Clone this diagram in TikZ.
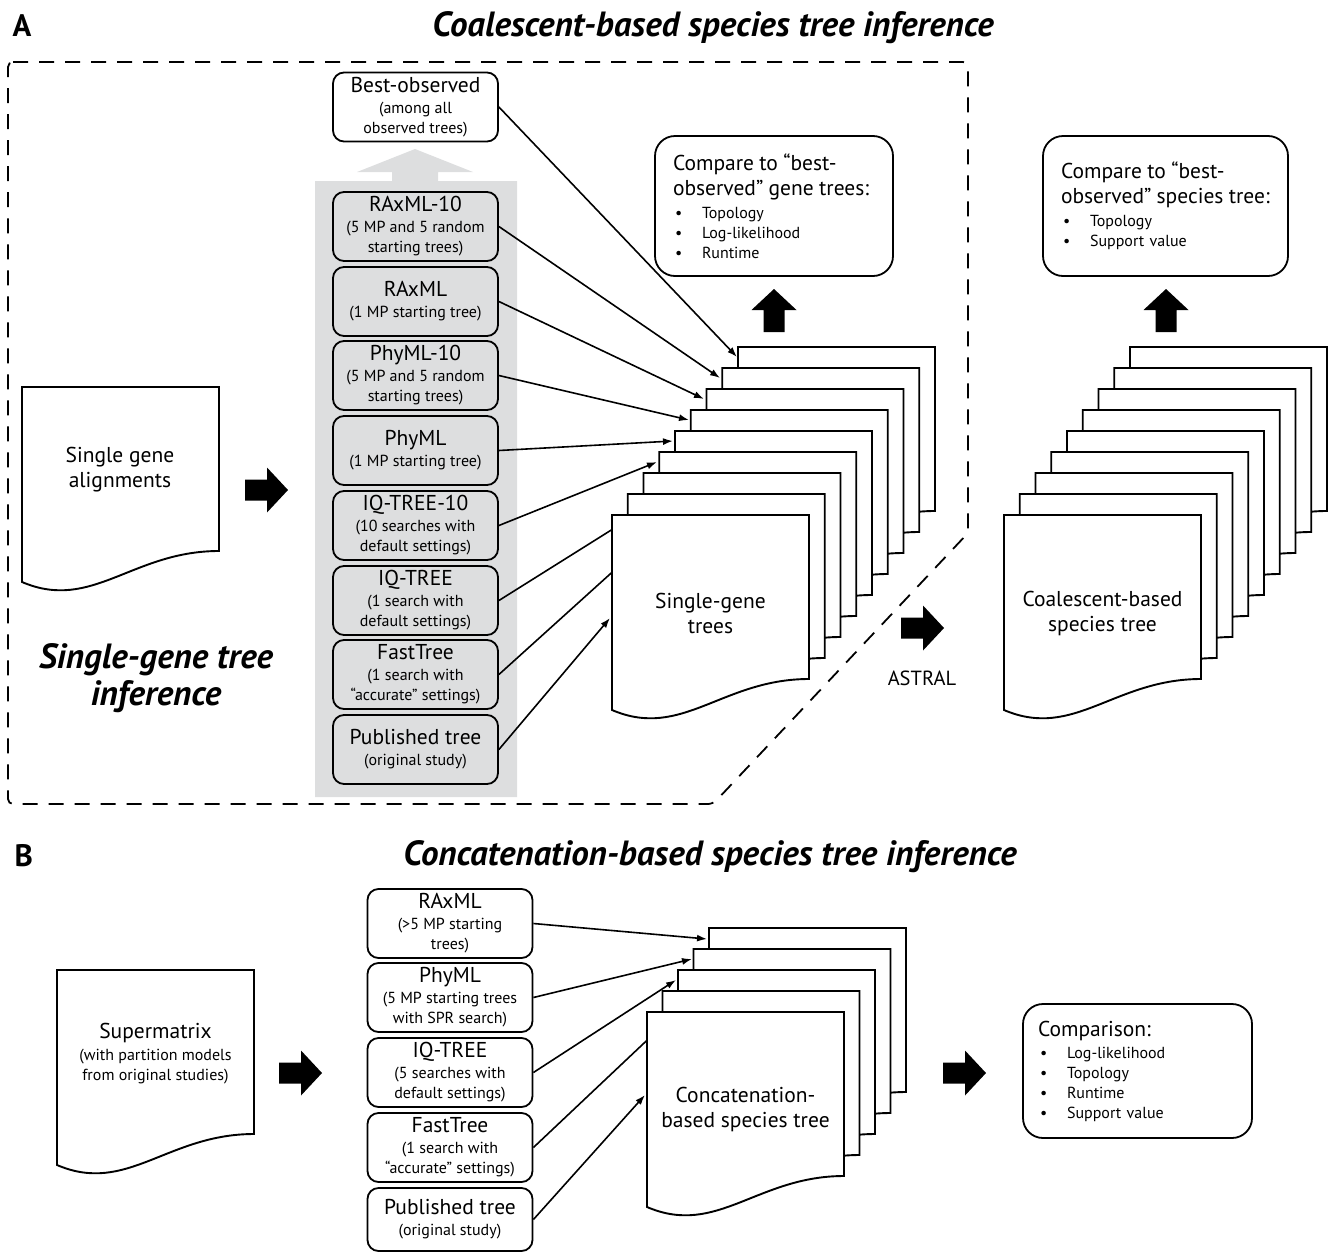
\documentclass[tikz,border=0pt]{standalone}
\usepackage{fontspec}
\setmainfont{PT Sans}
\usetikzlibrary{arrows.meta}
\definecolor{colgray}{RGB}{221,222,223}
\def\treedoc(#1,#2){\draw[docline,shift={(#1,#2)}] (0,0) -- (197,0) -- (197,164) .. controls (110,164) and (70,225) .. (0,195) -- cycle;}
\def\fatarrow(#1,#2)[#3]{\fill[black,shift={(#1,#2)},rotate=#3] (0,-10.5) -- (22,-10.5) -- (22,-22.5) -- (43,0) -- (22,22.5) -- (22,10.5) -- (0,10.5) -- cycle;}
\newcommand\mainline[1]{{\fontsize{21.5}{20}\selectfont #1}}
\newcommand\bigline[1]{\mbox{\fontsize{21.5}{25}\selectfont #1}}
\newcommand\bul[1]{\hspace*{2pt}\makebox[27pt][l]{\textbullet}#1}
\tikzset{
	method/.style={draw, line width=1.8pt, rounded corners=11pt, fill=colgray, minimum width=165pt, minimum height=69pt, inner sep=0pt, align=center, font={\fontsize{16}{20}\selectfont}},
	methodB/.style={method, fill=white},
	compbox/.style={draw, line width=1.8pt, rounded corners=20pt, fill=white, inner ysep=0pt, align=left, font={\fontsize{16}{20}\selectfont}},
	doclabel/.style={align=center, font={\fontsize{21.5}{25}\selectfont}},
	heading/.style={align=center, font={\fontsize{35}{37}\selectfont\bfseries\itshape}},
	panel/.style={font={\fontsize{31}{31}\selectfont\bfseries}},
	feed/.style={line width=1.6pt, -{Latex[length=10pt,width=7pt]}},
	docline/.style={line width=1.9pt, fill=white},
	gframe/.style={line width=1.8pt, dash pattern=on 15pt off 11pt, rounded corners=5pt}
}

\begin{document}
\begin{tikzpicture}[x=1pt,y=-1pt]
		%%%%% START %%%%%
		\useasboundingbox (0,0) rectangle (1333,1253);
		
		% panel A frame and gray column
		\draw[gframe] (8,62) -- (968,62) -- (968,533) -- (713,804) -- (8,804) -- cycle;
		\fill[colgray] (315,797) -- (315,181) -- (392,181) -- (392,172) -- (357,172) -- (415,149) -- (473,172) -- (438,172) -- (438,181) -- (517,181) -- (517,797) -- cycle;
		
		\node[panel, anchor=base west] (labA) at (9,36) {A};
		\node[heading, anchor=base] (titleA) at (713,36) {Coalescent-based species tree inference};
		\node[heading] (titlegene) at (156,678) {Single-gene tree\\inference};
		
		% gene tree methods
		\node[method, fill=white] (bestobs) at (415.5,107) {\mainline{Best-observed}\\[1pt](among all\\observed trees)};
		\node[method] (raxmlten) at (415.5,226.5) {\mainline{RAxML-10}\\[1pt](5 MP and 5 random\\starting trees)};
		\node[method] (raxmlA) at (415.5,301.5) {\mainline{RAxML}\\[1pt](1 MP starting tree)};
		\node[method] (phymlten) at (415.5,375.5) {\mainline{PhyML-10}\\[1pt](5 MP and 5 random\\starting trees)};
		\node[method] (phymlA) at (415.5,450.5) {\mainline{PhyML}\\[1pt](1 MP starting tree)};
		\node[method] (iqtreeten) at (415.5,525.5) {\mainline{IQ-TREE-10}\\[1pt](10 searches with\\default settings)};
		\node[method] (iqtreeA) at (415.5,600.5) {\mainline{IQ-TREE}\\[1pt](1 search with\\default settings)};
		\node[method] (fasttreeA) at (415.5,674.5) {\mainline{FastTree}\\[1pt](1 search with\\“accurate” settings)};
		\node[method] (publishedA) at (415.5,749.5) {\mainline{Published tree}\\[1pt](original study)};
		
		\node[compbox, minimum width=238pt, minimum height=140pt, text width=202pt, inner xsep=18pt] (cmpgene) at (774,206) {\bigline{Compare to “best-}\\[5pt]\bigline{observed” gene trees:}\\[3pt]\bul{Topology}\\\bul{Log-likelihood}\\\bul{Runtime}};
		\node[compbox, minimum width=245pt, minimum height=140pt, text width=209pt, inner xsep=18pt] (cmpspecies) at (1165.5,206) {\bigline{Compare to “best-}\\[5pt]\bigline{observed” species tree:}\\[3pt]\bul{Topology}\\\bul{Support value}};
		
		% arrow ends on the gene tree stack
		\coordinate (gA8) at (737,357);
		\coordinate (gA7) at (720,378);
		\coordinate (gA6) at (704,399);
		\coordinate (gA5) at (689,420);
		\coordinate (gA4) at (673,441);
		\coordinate (gA3) at (657,462);
		\coordinate (gA2) at (640,512);
		\coordinate (gA1) at (640,547);
		\coordinate (gA0) at (610,618);
		
		\draw[feed] (bestobs.east) -- (gA8);
		\draw[feed] (raxmlten.east) -- (gA7);
		\draw[feed] (raxmlA.east) -- (gA6);
		\draw[feed] (phymlten.east) -- (gA5);
		\draw[feed] (phymlA.east) -- (gA4);
		\draw[feed] (iqtreeten.east) -- (gA3);
		\draw[feed] (iqtreeA.east) -- (gA2);
		\draw[feed] (fasttreeA.east) -- (gA1);
		\draw[feed] (publishedA.east) -- (gA0);
		
		% document stacks
		\treedoc(22,387)
		\node[doclabel] (alignments) at (120,470) {Single gene\\alignments};
		\fatarrow(245,490)[0]
		
		\treedoc(738,347)
		\treedoc(722.25,368)
		\treedoc(706.5,389)
		\treedoc(690.75,410)
		\treedoc(675,431)
		\treedoc(659.25,452)
		\treedoc(643.5,473)
		\treedoc(627.75,494)
		\treedoc(612,515)
		\node[doclabel] (genetrees) at (710.5,613) {Single-gene\\trees};
		\fatarrow(774,332)[90]
		
		\fatarrow(901,628)[0]
		\node[font={\fontsize{20.5}{20}\selectfont}] (astral) at (922,678) {ASTRAL};
		
		\treedoc(1130,347)
		\treedoc(1114.25,368)
		\treedoc(1098.5,389)
		\treedoc(1082.75,410)
		\treedoc(1067,431)
		\treedoc(1051.25,452)
		\treedoc(1035.5,473)
		\treedoc(1019.75,494)
		\treedoc(1004,515)
		\node[doclabel] (sptree) at (1102.5,613) {Coalescent-based\\species tree};
		\fatarrow(1166,332)[90]
		
		% panel B
		\node[panel, anchor=base west] (labB) at (11,866) {B};
		\node[heading, anchor=base] (titleB) at (710,865) {Concatenation-based species tree inference};
		
		\treedoc(57,970)
		\node[align=center, font={\fontsize{16}{20}\selectfont}] (supermatrix) at (155.5,1054) {\mainline{Supermatrix}\\[2pt](with partition models\\from original studies)};
		\fatarrow(279,1073)[0]
		
		\node[methodB] (raxmlB) at (450,923.5) {\mainline{RAxML}\\[1pt](>5 MP starting\\trees)};
		\node[methodB] (phymlB) at (450,997.5) {\mainline{PhyML}\\[1pt](5 MP starting trees\\with SPR search)};
		\node[methodB] (iqtreeB) at (450,1072.5) {\mainline{IQ-TREE}\\[1pt](5 searches with\\default settings)};
		\node[methodB] (fasttreeB) at (450,1147.5) {\mainline{FastTree}\\[1pt](1 search with\\“accurate” settings)};
		\node[methodB, minimum height=63pt] (publishedB) at (450,1219.5) {\mainline{Published tree}\\[1pt](original study)};
		
		\coordinate (cB4) at (707,939);
		\coordinate (cB3) at (692,959);
		\coordinate (cB2) at (676,980);
		\coordinate (cB1) at (660,1028);
		\coordinate (cB0) at (645,1095);
		
		\draw[feed] (raxmlB.east) -- (cB4);
		\draw[feed] (phymlB.east) -- (cB3);
		\draw[feed] (iqtreeB.east) -- (cB2);
		\draw[feed] (fasttreeB.east) -- (cB1);
		\draw[feed] (publishedB.east) -- (cB0);
		
		\treedoc(709,928)
		\treedoc(693.5,949)
		\treedoc(678,970)
		\treedoc(662.5,991)
		\treedoc(647,1012)
		\node[doclabel] (concattree) at (745.5,1109) {Concatenation-\\based species tree};
		
		\fatarrow(943,1073)[0]
		\node[compbox, minimum width=229pt, minimum height=134pt, text width=199pt, inner xsep=15pt] (comparison) at (1137.5,1071) {\bigline{Comparison:}\\[2pt]\bul{Log-likelihood}\\\bul{Topology}\\\bul{Runtime}\\\bul{Support value}};
		
		%%%%% END %%%%%
\end{tikzpicture}
\end{document}
